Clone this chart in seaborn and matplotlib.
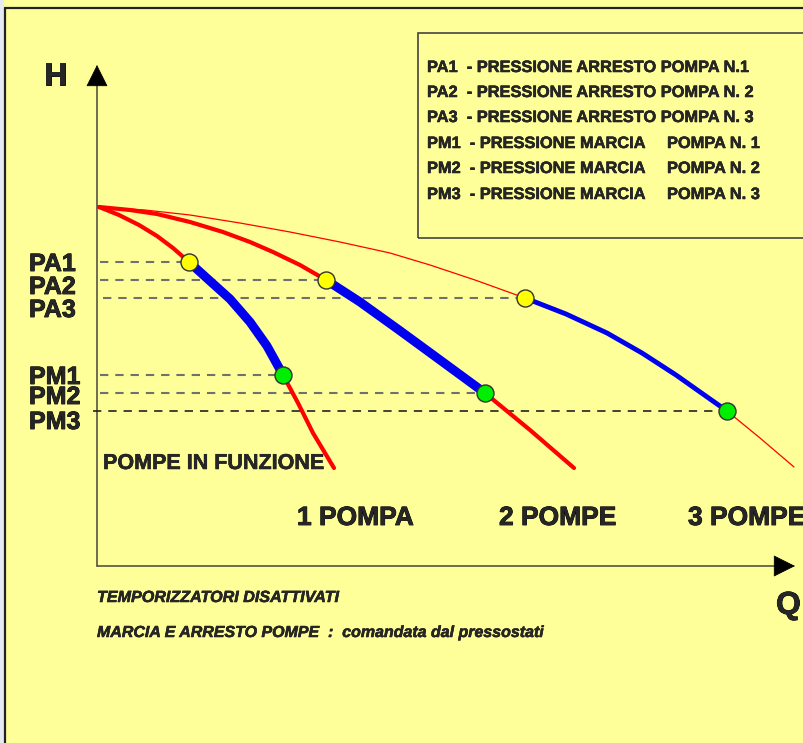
import numpy as np
import pandas as pd
import matplotlib
matplotlib.use("Agg")
import matplotlib.pyplot as plt
import matplotlib.patheffects as pe
import seaborn as sns
from matplotlib.patches import Rectangle
from matplotlib.lines import Line2D

# curve points (Q to the right, H upwards, origin at the axes corner)
Q_1 = [2, 22, 42, 60, 76, 92, 113, 133, 153, 170, 186, 201, 216, 237]
H_1 = [359, 351, 341, 330, 318, 304, 285, 267, 244, 220, 191, 163, 133, 98]
Q_2 = [2, 33, 60, 93, 126, 153, 176, 203, 229, 263, 302, 343, 388, 433, 477]
H_2 = [359, 356, 352, 344, 334, 324, 314, 301, 286, 264, 236, 206, 173, 136, 98]
Q_3 = [2, 48, 93, 143, 193, 243, 293, 333, 378, 428, 469, 510, 545, 579, 630, 663, 697]
H_3 = [359, 356, 351, 343, 334, 324, 313, 301, 286, 268, 252, 233, 213, 191, 155, 128, 99]

# index of stop (yellow) and start (green) point on each curve
STOP_IDX = [5, 8, 9]
START_IDX = [10, 12, 14]

LEVEL_NAMES = ["PA1", "PA2", "PA3", "PM1", "PM2", "PM3"]
LEVEL_LABEL_H = [295, 272, 249, 182, 162, 137]
LEVEL_LINE_START = [3, 3, 6, 3, 3, -4]

CURVE_LABELS = ["1 POMPA", "2 POMPE", "3 POMPE"]
CURVE_LABEL_Q = [200, 402, 591]

LEGEND_LEFT = [
    "PA1  - PRESSIONE ARRESTO POMPA N.1",
    "PA2  - PRESSIONE ARRESTO POMPA N. 2",
    "PA3  - PRESSIONE ARRESTO POMPA N. 3",
    "PM1  - PRESSIONE MARCIA",
    "PM2  - PRESSIONE MARCIA",
    "PM3  - PRESSIONE MARCIA",
]
LEGEND_RIGHT = ["", "", "", "POMPA N. 1", "POMPA N. 2", "POMPA N. 3"]
LEGEND_H = [494, 469, 444, 418, 393, 367]

NOTE_1 = "TEMPORIZZATORI DISATTIVATI"
NOTE_2 = "MARCIA E ARRESTO POMPE  :  comandata dal pressostati"

YELLOW_BG = "#FFFF99"
RED = "#FF0000"
BLUE = "#0000EE"

sns.set_theme(style="white")
plt.rcParams["font.family"] = ["Liberation Sans", "DejaVu Sans"]
plt.rcParams["lines.scale_dashes"] = False

heavy = [pe.withStroke(linewidth=0.6, foreground="black")]
heavy_small = [pe.withStroke(linewidth=0.35, foreground="black")]

fig = plt.figure(figsize=(8.04, 7.43), dpi=100, facecolor=YELLOW_BG)
ax = fig.add_axes([0, 0, 1, 1])
ax.set_facecolor(YELLOW_BG)

# page frame
fig.patches.append(Rectangle((0, 0), 4.5 / 804, 1, transform=fig.transFigure,
                             facecolor="#E6EAF2", edgecolor="none"))
fig.lines.append(Line2D([5.5 / 804, 5.5 / 804], [0, 1 - 8 / 743], transform=fig.transFigure,
                        color="#222222", lw=1.6))
fig.lines.append(Line2D([5.5 / 804, 1], [1 - 8 / 743, 1 - 8 / 743], transform=fig.transFigure,
                        color="#222222", lw=1.6))

# axes with arrows
ax.plot([0, 0], [0, 481], color="#555544", lw=1.2)
ax.plot([0, 678], [0, 0], color="#555544", lw=1.2)
head = dict(arrowstyle="-|>,head_length=1.0,head_width=0.5", color="black",
            lw=0.5, shrinkA=0, shrinkB=0, mutation_scale=14.4)
ax.annotate("", xy=(0, 501), xytext=(0, 481), arrowprops=head)
ax.annotate("", xy=(698, 0), xytext=(678, 0), arrowprops=head)
ax.text(-53, 481, "H", fontsize=23, fontweight="bold", ha="left", va="baseline", path_effects=heavy)
ax.text(679, -48, "Q", fontsize=23, fontweight="bold", ha="left", va="baseline", path_effects=heavy)

curves = [(Q_1, H_1), (Q_2, H_2), (Q_3, H_3)]
red_widths = [3.0, 3.0, 0.9]
blue_widths = [6.5, 6.5, 3.5]

# dashed pressure levels
levels_q = [curves[i][0][STOP_IDX[i]] for i in range(3)] + [curves[i][0][START_IDX[i]] for i in range(3)]
levels_h = [curves[i][1][STOP_IDX[i]] for i in range(3)] + [curves[i][1][START_IDX[i]] for i in range(3)]
for k in range(6):
    col = "#222222" if k == 5 else "#707070"
    lw = 1.2 if k == 5 else 1.5
    ax.plot([LEVEL_LINE_START[k], levels_q[k]], [levels_h[k], levels_h[k]],
            color=col, lw=lw, dashes=(6, 5), zorder=2)
    ax.text(-68, LEVEL_LABEL_H[k], LEVEL_NAMES[k], fontsize=18, fontweight="bold",
            ha="left", va="baseline", path_effects=heavy)

for i, (q, h) in enumerate(curves):
    df = pd.DataFrame({"Q": q, "H": h, "order": np.arange(len(q))})
    sns.lineplot(data=df, x="Q", y="H", sort=False, estimator=None, color=RED,
                 lw=red_widths[i], ax=ax, zorder=3)
    seg = df.iloc[STOP_IDX[i]:START_IDX[i] + 1]
    sns.lineplot(data=seg, x="Q", y="H", sort=False, estimator=None, color=BLUE,
                 lw=blue_widths[i], ax=ax, zorder=4, solid_capstyle="butt")

stops = pd.DataFrame({"Q": levels_q[:3], "H": levels_h[:3]})
starts = pd.DataFrame({"Q": levels_q[3:], "H": levels_h[3:]})
sns.scatterplot(data=stops, x="Q", y="H", s=150, color="#FFFF00", edgecolor="#333333",
                linewidth=1.0, ax=ax, zorder=5)
sns.scatterplot(data=starts, x="Q", y="H", s=150, color="#00EE00", edgecolor="#333333",
                linewidth=1.0, ax=ax, zorder=5)
ax.set_xlim(-97, 707)
ax.set_ylim(-177, 566)
ax.axis("off")

ax.text(6, 97, "POMPE IN FUNZIONE", fontsize=15.5, fontweight="bold", ha="left", va="baseline",
        path_effects=heavy_small)
for k in range(3):
    ax.text(CURVE_LABEL_Q[k], 41, CURVE_LABELS[k], fontsize=19, fontweight="bold",
            ha="left", va="baseline", path_effects=heavy)

# legend box
ax.add_patch(Rectangle((321, 328), 420, 205, facecolor="none", edgecolor="#444444",
                       lw=1.2, clip_on=False, zorder=1))
for k in range(6):
    ax.text(330, LEGEND_H[k], LEGEND_LEFT[k], fontsize=11.8, fontweight="bold",
            ha="left", va="baseline", path_effects=heavy_small)
    if LEGEND_RIGHT[k]:
        ax.text(570, LEGEND_H[k], LEGEND_RIGHT[k], fontsize=11.8, fontweight="bold",
                ha="left", va="baseline", path_effects=heavy_small)

ax.text(0, -36, NOTE_1, fontsize=11.6, fontweight="bold", fontstyle="italic",
        ha="left", va="baseline", path_effects=heavy_small)
ax.text(0, -71, NOTE_2, fontsize=11.5, fontweight="bold", fontstyle="italic",
        ha="left", va="baseline", path_effects=heavy_small)

fig.savefig("out.png", dpi=100, facecolor=YELLOW_BG)
